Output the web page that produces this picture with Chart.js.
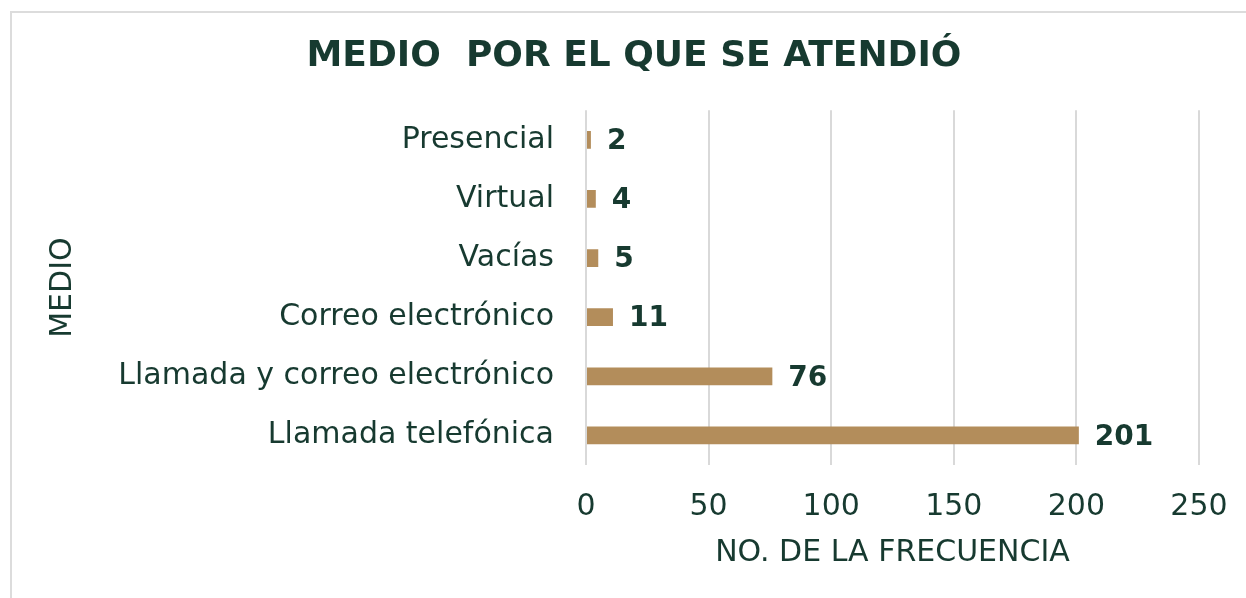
<!DOCTYPE html>
<html>
<head>
<meta charset="utf-8">
<script src="https://cdn.jsdelivr.net/npm/chart.js@4"></script>
<style>
  body { margin: 0; background: #fff; overflow: hidden; }
  #frame { position: absolute; left: 10px; top: 11px; width: 1250px; height: 600px; border: 2px solid #dcdcdc; }
  #wrap { position: absolute; left: 0; top: 0; width: 1268px; height: 598px; }
</style>
</head>
<body>
<div id="frame"></div>
<div id="wrap"><canvas id="chart"></canvas></div>
<script>
const categories = ['Presencial', 'Virtual', 'Vacías', 'Correo electrónico', 'Llamada y correo electrónico', 'Llamada telefónica'];
const values = [2, 4, 5, 11, 76, 201];
const xTicks = [0, 50, 100, 150, 200, 250];

const textColor = '#173a30';
const barColor = '#b38d5b';
const fontFamily = '"DejaVu Sans", sans-serif';

// value labels next to each bar
const valueLabels = {
    id: 'valueLabels',
    afterDatasetsDraw(chart) {
        const ctx = chart.ctx;
        const meta = chart.getDatasetMeta(0);
        ctx.save();
        ctx.font = 'bold 28px ' + fontFamily;
        ctx.fillStyle = textColor;
        ctx.textAlign = 'left';
        ctx.textBaseline = 'middle';
        meta.data.forEach((bar, i) => {
            ctx.fillText(String(values[i]), bar.x + 16, bar.y + 2);
        });
        ctx.restore();
    }
};

const ctx = document.getElementById('chart').getContext('2d');
const chart = new Chart(ctx, {
    type: 'bar',
    data: {
        labels: categories,
        datasets: [{
            data: values,
            backgroundColor: barColor,
            barPercentage: 0.6,
            categoryPercentage: 0.5
        }]
    },
    options: {
        indexAxis: 'y',
        responsive: true,
        maintainAspectRatio: false,
        animation: false,
        layout: { padding: 0 },
        plugins: {
            legend: { display: false },
            tooltip: { enabled: false },
            title: {
                display: true,
                text: 'MEDIO  POR EL QUE SE ATENDIÓ',
                color: textColor,
                font: { family: fontFamily, size: 36, weight: 'bold' },
                padding: { top: 35, bottom: 32 }
            }
        },
        scales: {
            x: {
                min: 0,
                max: 250,
                afterBuildTicks: s => { s.ticks = xTicks.map(v => ({ value: v })); },
                grid: { color: '#d9d9d9', lineWidth: 2, drawTicks: false },
                border: { display: false },
                ticks: { color: textColor, font: { family: fontFamily, size: 30 }, padding: 24 },
                title: {
                    display: true,
                    text: 'NO. DE LA FRECUENCIA',
                    color: textColor,
                    font: { family: fontFamily, size: 30 },
                    padding: { top: 6, bottom: 27 }
                },
                afterFit: s => { s.height = 133; }
            },
            y: {
                grid: { display: false, drawTicks: false },
                border: { display: false },
                ticks: { color: textColor, font: { family: fontFamily, size: 30 }, padding: 32 },
                title: {
                    display: true,
                    text: 'MEDIO',
                    color: textColor,
                    font: { family: fontFamily, size: 30 },
                    padding: { top: 45, bottom: 0 }
                },
                afterFit: s => { s.width = 586; }
            },
            // empty right-hand axis, only reserves space so the title stays centred on the whole frame
            yRight: {
                type: 'category',
                position: 'right',
                grid: { display: false, drawTicks: false },
                border: { display: false },
                ticks: { display: false },
                afterFit: s => { s.width = 69; }
            }
        }
    },
    plugins: [valueLabels]
});
</script>
</body>
</html>
